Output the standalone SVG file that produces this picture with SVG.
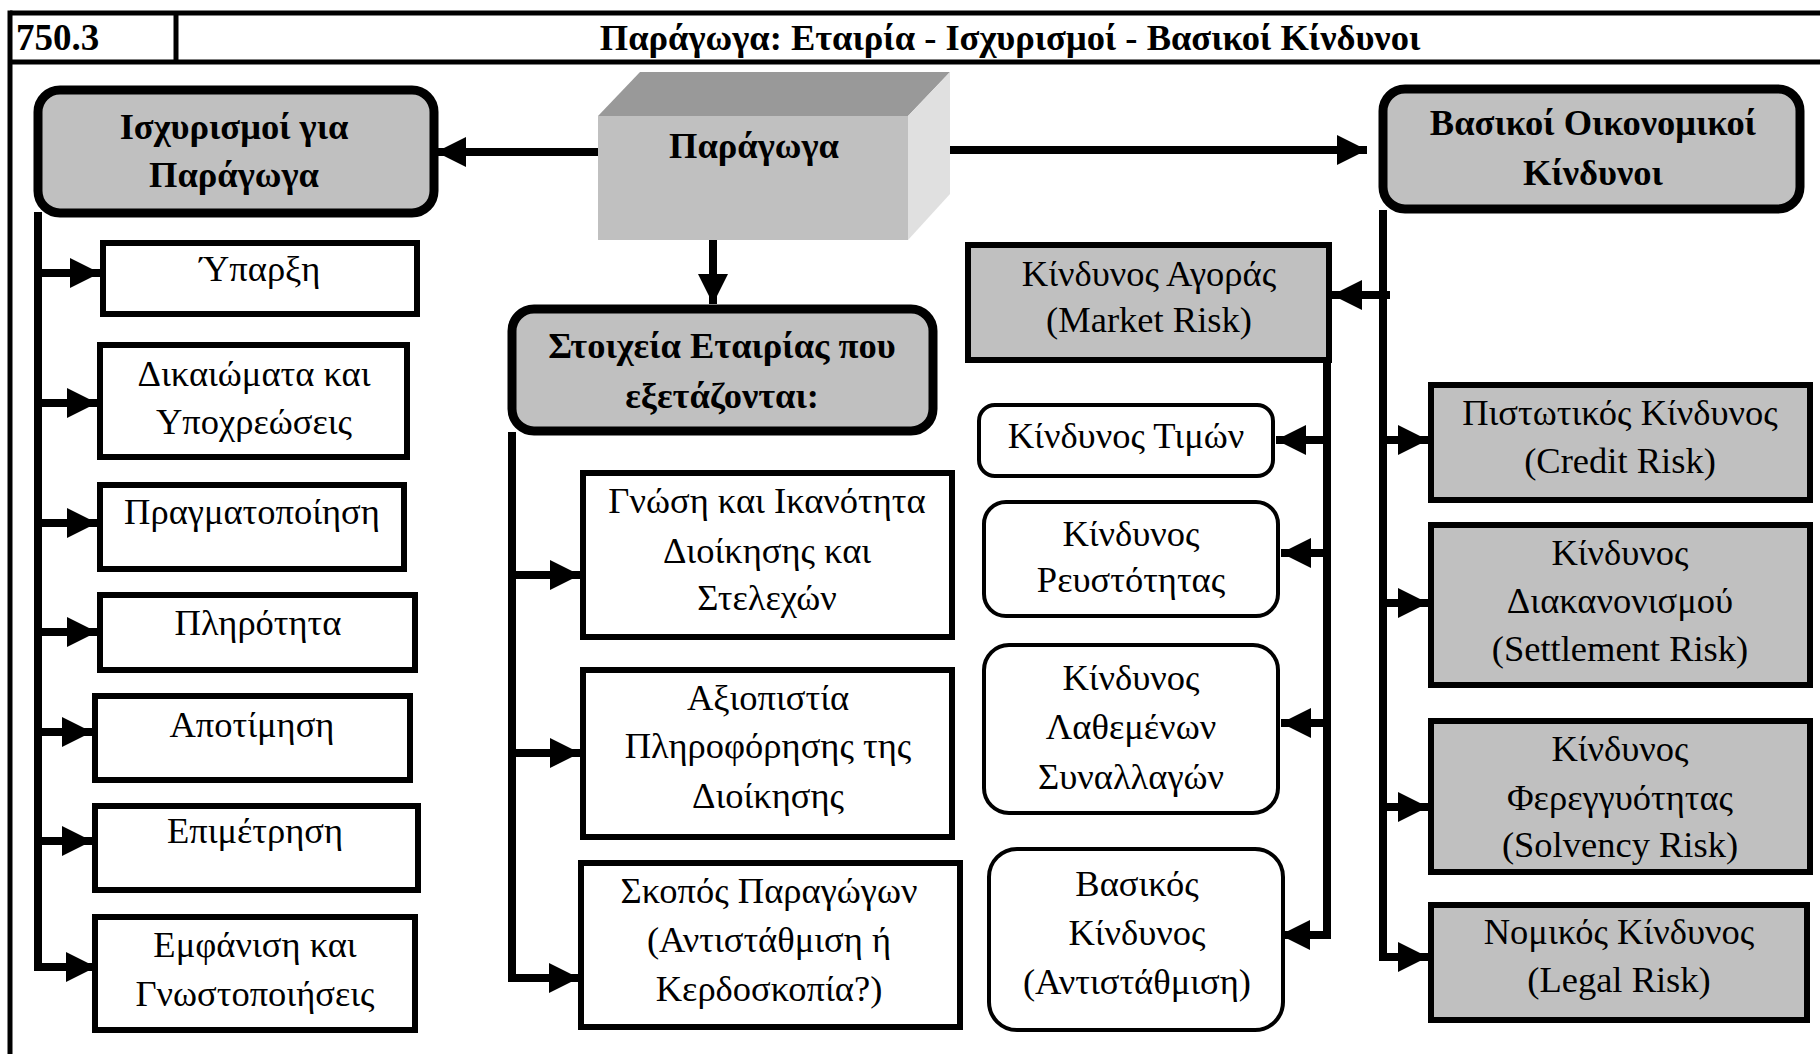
<svg xmlns="http://www.w3.org/2000/svg" width="1820" height="1054" viewBox="0 0 1820 1054">
<defs>
<style>
text{font-family:"Liberation Serif","Times New Roman",serif;font-size:36.5px;fill:#000;text-anchor:middle}
.b{font-weight:bold}
.box{fill:#fff;stroke:#000;stroke-width:6}
.gbox{fill:#c0c0c0;stroke:#000;stroke-width:6}
.hdr{fill:#c0c0c0;stroke:#000;stroke-width:9}
.rbox{fill:#fff;stroke:#000;stroke-width:4}
.ln{fill:none;stroke:#000;stroke-width:8}
.fr{fill:none;stroke:#000;stroke-width:5}
</style>
<marker id="ah" markerUnits="userSpaceOnUse" markerWidth="30" markerHeight="30" refX="30" refY="15" orient="auto" viewBox="0 0 30 30">
<path d="M0,0 L30,15 L0,30 z" fill="#000"/>
</marker>
</defs>
<rect width="1820" height="1054" fill="#fff"/>

<g id="frame">
<line class="fr" x1="10" y1="13" x2="1820" y2="13"/>
<line class="fr" x1="10" y1="62" x2="1820" y2="62"/>
<line class="fr" x1="10" y1="10.5" x2="10" y2="1054"/>
<line class="fr" x1="176" y1="13" x2="176" y2="62"/>
<text class="b" x="16" y="50" style="text-anchor:start;font-size:37px">750.3</text>
<text class="b" x="1010" y="50">Παράγωγα: Εταιρία - Ισχυρισμοί - Βασικοί Κίνδυνοι</text>
</g>

<g id="connectors">
<!-- from Παράγωγα -->
<line class="ln" x1="598" y1="152" x2="436" y2="152" marker-end="url(#ah)"/>
<line class="ln" x1="950" y1="150" x2="1367" y2="150" marker-end="url(#ah)"/>
<line class="ln" x1="713" y1="240" x2="713" y2="304" marker-end="url(#ah)"/>
<!-- left bus -->
<polyline class="ln" points="38,212 38,967 96,967" marker-end="url(#ah)"/>
<line class="ln" x1="38" y1="273" x2="100" y2="273" marker-end="url(#ah)"/>
<line class="ln" x1="38" y1="403" x2="97" y2="403" marker-end="url(#ah)"/>
<line class="ln" x1="38" y1="523" x2="97" y2="523" marker-end="url(#ah)"/>
<line class="ln" x1="38" y1="632" x2="97" y2="632" marker-end="url(#ah)"/>
<line class="ln" x1="38" y1="732" x2="92" y2="732" marker-end="url(#ah)"/>
<line class="ln" x1="38" y1="841" x2="92" y2="841" marker-end="url(#ah)"/>
<!-- middle bus -->
<polyline class="ln" points="512,432 512,978 579,978" marker-end="url(#ah)"/>
<line class="ln" x1="512" y1="575" x2="580" y2="575" marker-end="url(#ah)"/>
<line class="ln" x1="512" y1="753" x2="580" y2="753" marker-end="url(#ah)"/>
<!-- right bus -->
<polyline class="ln" points="1383,210 1383,957 1428,957" marker-end="url(#ah)"/>
<line class="ln" x1="1383" y1="440" x2="1428" y2="440" marker-end="url(#ah)"/>
<line class="ln" x1="1383" y1="603" x2="1428" y2="603" marker-end="url(#ah)"/>
<line class="ln" x1="1383" y1="807" x2="1428" y2="807" marker-end="url(#ah)"/>
<line class="ln" x1="1390" y1="295" x2="1332" y2="295" marker-end="url(#ah)"/>
<!-- market risk bus -->
<polyline class="ln" points="1327,360 1327,935 1280,935" marker-end="url(#ah)"/>
<line class="ln" x1="1327" y1="440" x2="1276" y2="440" marker-end="url(#ah)"/>
<line class="ln" x1="1327" y1="553" x2="1281" y2="553" marker-end="url(#ah)"/>
<line class="ln" x1="1327" y1="723" x2="1281" y2="723" marker-end="url(#ah)"/>
</g>

<g id="paragoga">
<polygon points="598,116 640,72 950,72 908,116" fill="#999999"/>
<polygon points="908,116 950,72 950,194 908,240" fill="#e0e0e0"/>
<rect x="598" y="116" width="310" height="124" fill="#c0c0c0"/>
<text class="b" x="754" y="158">Παράγωγα</text>
</g>

<g id="hdr-claims">
<rect class="hdr" x="38" y="90" width="396" height="123" rx="22"/>
<text class="b" x="234" y="139">Ισχυρισμοί για</text>
<text class="b" x="234" y="187">Παράγωγα</text>
</g>

<g id="hdr-company">
<rect class="hdr" x="512" y="309" width="421" height="122" rx="22"/>
<text class="b" x="722" y="358">Στοιχεία Εταιρίας που</text>
<text class="b" x="722" y="408">εξετάζονται:</text>
</g>

<g id="hdr-risks">
<rect class="hdr" x="1383" y="89" width="417" height="120" rx="22"/>
<text class="b" x="1593" y="135">Βασικοί Οικονομικοί</text>
<text class="b" x="1593" y="185">Κίνδυνοι</text>
</g>

<g id="c1"><rect class="box" x="103" y="243" width="314" height="71"/><text x="260" y="281">Ύπαρξη</text></g>
<g id="c2"><rect class="box" x="100" y="345" width="307" height="112"/><text x="254" y="386">Δικαιώματα και</text><text x="254" y="434">Υποχρεώσεις</text></g>
<g id="c3"><rect class="box" x="100" y="485" width="304" height="84"/><text x="252" y="524">Πραγματοποίηση</text></g>
<g id="c4"><rect class="box" x="100" y="595" width="315" height="75"/><text x="258" y="635">Πληρότητα</text></g>
<g id="c5"><rect class="box" x="95" y="696" width="315" height="84"/><text x="252" y="737">Αποτίμηση</text></g>
<g id="c6"><rect class="box" x="95" y="806" width="323" height="84"/><text x="255" y="843">Επιμέτρηση</text></g>
<g id="c7"><rect class="box" x="95" y="917" width="320" height="113"/><text x="255" y="957">Εμφάνιση και</text><text x="255" y="1006">Γνωστοποιήσεις</text></g>

<g id="m1"><rect class="box" x="583" y="473" width="369" height="164"/><text x="767" y="513">Γνώση και Ικανότητα</text><text x="767" y="563">Διοίκησης και</text><text x="767" y="610">Στελεχών</text></g>
<g id="m2"><rect class="box" x="583" y="670" width="369" height="167"/><text x="768" y="710">Αξιοπιστία</text><text x="768" y="758">Πληροφόρησης της</text><text x="768" y="808">Διοίκησης</text></g>
<g id="m3"><rect class="box" x="581" y="863" width="379" height="164"/><text x="769" y="903">Σκοπός Παραγώγων</text><text x="769" y="952">(Αντιστάθμιση ή</text><text x="769" y="1001">Κερδοσκοπία?)</text></g>

<g id="market"><rect class="gbox" x="968" y="245" width="361" height="115"/><text x="1149" y="286">Κίνδυνος Αγοράς</text><text x="1149" y="332">(Market Risk)</text></g>
<g id="s1"><rect class="rbox" x="979" y="405" width="294" height="71" rx="16"/><text x="1126" y="448">Κίνδυνος Τιμών</text></g>
<g id="s2"><rect class="rbox" x="984" y="502" width="294" height="114" rx="22"/><text x="1131" y="546">Κίνδυνος</text><text x="1131" y="592">Ρευστότητας</text></g>
<g id="s3"><rect class="rbox" x="984" y="645" width="294" height="168" rx="25"/><text x="1131" y="690">Κίνδυνος</text><text x="1131" y="739">Λαθεμένων</text><text x="1131" y="789">Συναλλαγών</text></g>
<g id="s4"><rect class="rbox" x="989" y="849" width="294" height="181" rx="28"/><text x="1137" y="896">Βασικός</text><text x="1137" y="945">Κίνδυνος</text><text x="1137" y="994">(Αντιστάθμιση)</text></g>

<g id="r1"><rect class="gbox" x="1431" y="385" width="379" height="115"/><text x="1620" y="425">Πιστωτικός Κίνδυνος</text><text x="1620" y="473">(Credit Risk)</text></g>
<g id="r2"><rect class="gbox" x="1431" y="525" width="379" height="160"/><text x="1620" y="565">Κίνδυνος</text><text x="1620" y="613">Διακανονισμού</text><text x="1620" y="661">(Settlement Risk)</text></g>
<g id="r3"><rect class="gbox" x="1431" y="721" width="379" height="151"/><text x="1620" y="761">Κίνδυνος</text><text x="1620" y="810">Φερεγγυότητας</text><text x="1620" y="857">(Solvency Risk)</text></g>
<g id="r4"><rect class="gbox" x="1431" y="905" width="376" height="115"/><text x="1619" y="944">Νομικός Κίνδυνος</text><text x="1619" y="992">(Legal Risk)</text></g>
</svg>
